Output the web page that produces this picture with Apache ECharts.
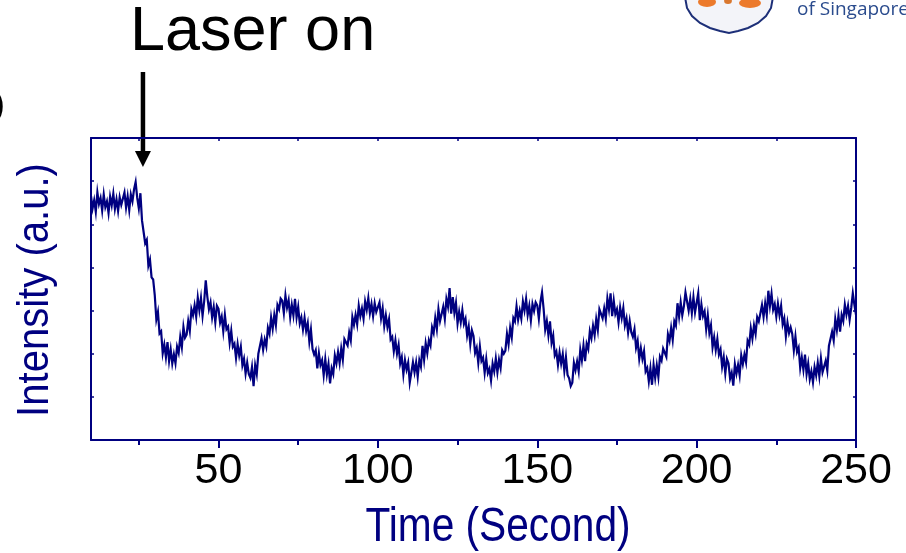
<!DOCTYPE html>
<html>
<head>
<meta charset="utf-8">
<script src="https://cdn.jsdelivr.net/npm/echarts@6/dist/echarts.min.js"></script>
<style>
  html, body { margin: 0; padding: 0; background: #ffffff; }
  #chart { width: 906px; height: 553px; }
</style>
</head>
<body>
<div id="chart"></div>
<script>
// Recorded trace: one sample every 0.5 s starting at t = 10 s
const timeStart = 10;
const timeStep = 0.5;
const intensity = [
  // 10 - 19.5 s
  5.66,5.37,5.56,5.29,5.74,5.47,5.61,5.32,5.69,5.40,5.53,5.26,5.64,5.44,5.71,5.36,5.58,5.31,5.63,5.45,
  // 20 - 29.5 s
  5.47,5.74,5.39,5.65,5.33,5.69,5.53,5.81,5.98,5.61,5.37,5.72,5.09,5.07,4.56,4.64,4.04,4.18,3.77,3.72,
  // 30 - 39.5 s
  3.36,2.79,2.97,2.47,2.52,2.01,2.21,1.92,2.27,1.83,2.10,1.77,1.99,1.78,2.16,2.02,2.39,2.15,2.62,2.37,
  // 40 - 49.5 s
  2.44,2.76,2.53,3.03,2.89,3.12,2.86,3.30,3.01,3.29,2.88,3.21,3.70,3.32,3.03,3.19,2.84,3.08,2.73,3.11,
  // 50 - 59.5 s
  3.04,2.72,2.86,2.52,2.90,2.57,2.63,2.25,2.53,2.16,2.23,1.90,2.22,1.96,2.16,1.73,1.88,1.54,1.79,1.53,
  // 60 - 69.5 s
  1.44,1.69,1.25,1.73,1.53,2.00,1.96,2.36,2.09,2.33,2.17,2.60,2.46,2.84,2.58,2.90,2.66,3.13,3.03,3.28,
  // 70 - 79.5 s
  3.23,2.94,3.35,3.07,3.24,2.84,3.13,2.89,3.27,2.84,3.08,2.70,2.84,2.56,2.83,2.53,2.71,2.28,2.56,2.11,
  // 80 - 89.5 s
  1.98,2.08,1.66,2.01,1.74,1.85,1.50,1.87,1.52,1.76,1.31,1.66,1.53,1.96,1.78,2.04,1.78,2.12,1.86,2.34,
  // 90 - 99.5 s
  2.38,2.19,2.49,2.31,2.85,2.67,2.90,2.68,3.11,2.87,3.05,2.81,3.21,3.02,3.29,2.94,3.15,2.87,3.17,2.97,
  // 100 - 109.5 s
  2.93,3.19,2.82,3.05,2.64,2.89,2.62,2.80,2.33,2.39,2.06,2.31,2.00,2.20,1.77,1.92,1.52,1.85,1.63,1.79,
  // 110 - 119.5 s
  1.33,1.37,1.80,1.57,1.80,1.47,1.85,1.70,2.18,1.86,2.24,2.01,2.31,2.19,2.61,2.48,2.83,2.57,3.03,2.76,
  // 120 - 129.5 s
  2.80,3.09,2.81,3.27,3.09,3.52,2.93,3.31,2.95,3.18,2.70,2.97,2.73,3.01,2.69,2.81,2.42,2.63,2.22,2.54,
  // 130 - 139.5 s
  2.41,2.02,2.14,1.79,2.17,1.83,1.91,1.56,1.88,1.55,1.65,1.38,1.77,1.59,1.89,1.57,1.86,1.67,2.08,2.00,
  // 140 - 149.5 s
  2.07,2.46,2.22,2.60,2.38,2.83,2.75,3.10,2.79,3.00,2.81,3.21,3.00,3.27,2.90,3.11,2.77,3.15,2.99,3.19,
  // 150 - 159.5 s
  3.12,2.81,3.20,3.42,3.04,2.56,2.76,2.43,2.75,2.25,2.42,1.96,2.05,1.74,2.03,1.77,1.99,1.60,1.92,1.51,
  // 160 - 169.5 s
  1.43,1.25,1.33,1.79,1.62,1.82,1.59,2.09,1.85,2.19,1.83,2.23,2.11,2.52,2.36,2.65,2.43,2.80,2.55,3.03,
  // 170 - 179.5 s
  3.06,2.82,3.05,2.81,3.28,3.03,3.40,2.87,3.23,2.92,3.03,2.73,3.07,2.83,3.06,2.66,2.82,2.49,2.76,2.50,
  // 180 - 189.5 s
  2.39,2.57,2.14,2.30,1.88,2.13,1.88,2.06,1.59,1.67,1.36,1.66,1.28,1.74,1.44,1.73,1.46,1.93,1.84,2.12,
  // 190 - 199.5 s
  2.12,1.93,2.45,2.30,2.60,2.32,2.75,2.65,3.17,2.86,3.19,2.89,3.10,3.42,3.21,3.00,3.27,2.94,3.31,2.96,
  // 200 - 209.5 s
  2.92,3.40,2.78,3.14,2.87,2.98,2.57,2.89,2.48,2.66,2.15,2.38,2.09,2.34,1.98,2.10,1.70,1.92,1.54,1.88,
  // 210 - 219.5 s
  1.78,1.42,1.56,1.26,1.76,1.54,1.74,1.50,1.96,1.76,1.98,1.80,2.30,2.21,2.59,2.35,2.66,2.46,2.85,2.75,
  // 220 - 229.5 s
  2.79,3.13,2.85,3.17,2.90,3.46,3.11,3.39,3.02,3.15,2.86,3.16,2.89,3.11,2.68,2.82,2.40,2.72,2.48,2.61,
  // 230 - 239.5 s
  2.46,2.08,2.40,2.04,2.14,1.67,1.91,1.63,1.98,1.53,1.77,1.41,1.59,1.34,1.69,1.50,1.79,1.48,1.89,1.57,
  // 240 - 250 s
  1.58,1.84,1.61,2.18,2.17,2.51,2.31,2.80,2.55,2.88,2.51,2.90,2.76,3.14,2.91,3.11,2.79,3.06,3.40,3.13,
  2.90
];

const xLabelTicks = [50, 100, 150, 200, 250];
const xMinorTicks = [25, 75, 125, 175, 225];
const xTopTicks = [25, 50, 75, 100, 125, 150, 175, 200, 225];
const laserOnTime = 26.3;

const NAVY = '#000080';
const SANS = '"Liberation Sans", Arial, sans-serif';

const seriesData = intensity.map((v, i) => [timeStart + i * timeStep, v]);

const chart = echarts.init(document.getElementById('chart'), null, { renderer: 'canvas' });

const frameLine = { show: true, onZero: false, lineStyle: { color: NAVY, width: 2 } };

chart.setOption({
  animation: false,
  backgroundColor: '#ffffff',
  grid: { left: 91, right: 50, top: 138, bottom: 113, containLabel: false },
  xAxis: [
    {
      type: 'value', position: 'bottom', min: 10, max: 250,
      axisLine: frameLine,
      axisTick: { show: true, inside: false, length: 8, customValues: xLabelTicks,
                  lineStyle: { color: NAVY, width: 2 } },
      axisLabel: { show: true, customValues: xLabelTicks, color: '#000000',
                   fontFamily: SANS, fontSize: 43, margin: 10 },
      splitLine: { show: false }
    },
    {
      type: 'value', position: 'bottom', min: 10, max: 250,
      axisLine: { show: false },
      axisTick: { show: true, inside: false, length: 5, customValues: xMinorTicks,
                  lineStyle: { color: NAVY, width: 2 } },
      axisLabel: { show: false },
      splitLine: { show: false }
    },
    {
      type: 'value', position: 'top', min: 10, max: 250,
      axisLine: frameLine,
      axisTick: { show: true, inside: true, length: 3, customValues: xTopTicks,
                  lineStyle: { color: NAVY, width: 1.5 } },
      axisLabel: { show: false },
      splitLine: { show: false }
    }
  ],
  yAxis: [
    {
      type: 'value', position: 'left', min: 0, max: 7, interval: 1,
      axisLine: frameLine,
      axisTick: { show: true, inside: true, length: 3, lineStyle: { color: NAVY, width: 1.5 } },
      axisLabel: { show: false },
      splitLine: { show: false }
    },
    {
      type: 'value', position: 'right', min: 0, max: 7, interval: 1,
      axisLine: frameLine,
      axisTick: { show: true, inside: true, length: 3, lineStyle: { color: NAVY, width: 1.5 } },
      axisLabel: { show: false },
      splitLine: { show: false }
    }
  ],
  series: [
    {
      type: 'line',
      xAxisIndex: 0,
      yAxisIndex: 0,
      data: seriesData,
      showSymbol: false,
      symbol: 'none',
      sampling: null,
      lineStyle: { color: NAVY, width: 2.2, join: 'miter' },
      z: 3
    }
  ]
});

// Annotation arrow placed at the laser switch-on time
const arrowX = chart.convertToPixel({ xAxisIndex: 0 }, laserOnTime);

// Outline of the crest in the top corner
const crestOutline = [
  [685, -3], [687, 8], [692, 16], [700, 23], [710, 28], [720, 31], [729, 33],
  [738, 31], [748, 28], [758, 23], [766, 16], [771, 8], [773, -3]
];

chart.setOption({
  graphic: [
    { type: 'text', x: 498, y: 527, scaleX: 0.83,
      style: { text: 'Time (Second)', fill: NAVY, fontFamily: SANS, fontSize: 49,
               align: 'center', verticalAlign: 'middle' } },
    { type: 'text', x: 36, y: 290, rotation: Math.PI / 2, scaleX: 0.89,
      style: { text: 'Intensity (a.u.)', fill: NAVY, fontFamily: SANS, fontSize: 45,
               align: 'center', verticalAlign: 'middle' } },
    { type: 'text', x: 130, y: 33,
      style: { text: 'Laser on', fill: '#000000', fontFamily: SANS, fontSize: 63,
               align: 'left', verticalAlign: 'middle' } },
    { type: 'text', x: 5, y: 106,
      style: { text: '(b)', fill: '#000000', fontFamily: SANS, fontSize: 35,
               align: 'right', verticalAlign: 'middle' } },
    { type: 'line', shape: { x1: arrowX, y1: 72, x2: arrowX, y2: 154 },
      style: { stroke: '#000000', lineWidth: 4.5 } },
    { type: 'polygon', shape: { points: [[arrowX - 8, 151], [arrowX + 8, 151], [arrowX, 167]] },
      style: { fill: '#000000' } },
    { type: 'polygon', shape: { points: crestOutline },
      style: { fill: '#f3f4f9', stroke: '#1d2f78', lineWidth: 2 } },
    { type: 'circle', x: 707, y: 2, scaleX: 1.8, shape: { cx: 0, cy: 0, r: 5 },
      style: { fill: '#ec7a2c' } },
    { type: 'circle', x: 728, y: 1, scaleX: 1.3, shape: { cx: 0, cy: 0, r: 3 },
      style: { fill: '#d9772f' } },
    { type: 'circle', x: 750, y: 3, scaleX: 2.2, shape: { cx: 0, cy: 0, r: 5 },
      style: { fill: '#ec7a2c' } },
    { type: 'text', x: 797, y: 10,
      style: { text: 'of Singapore', fill: '#2a4b8d', fontFamily: '"Open Sans", sans-serif',
               fontSize: 19, align: 'left', verticalAlign: 'middle' } }
  ]
});
</script>
</body>
</html>
